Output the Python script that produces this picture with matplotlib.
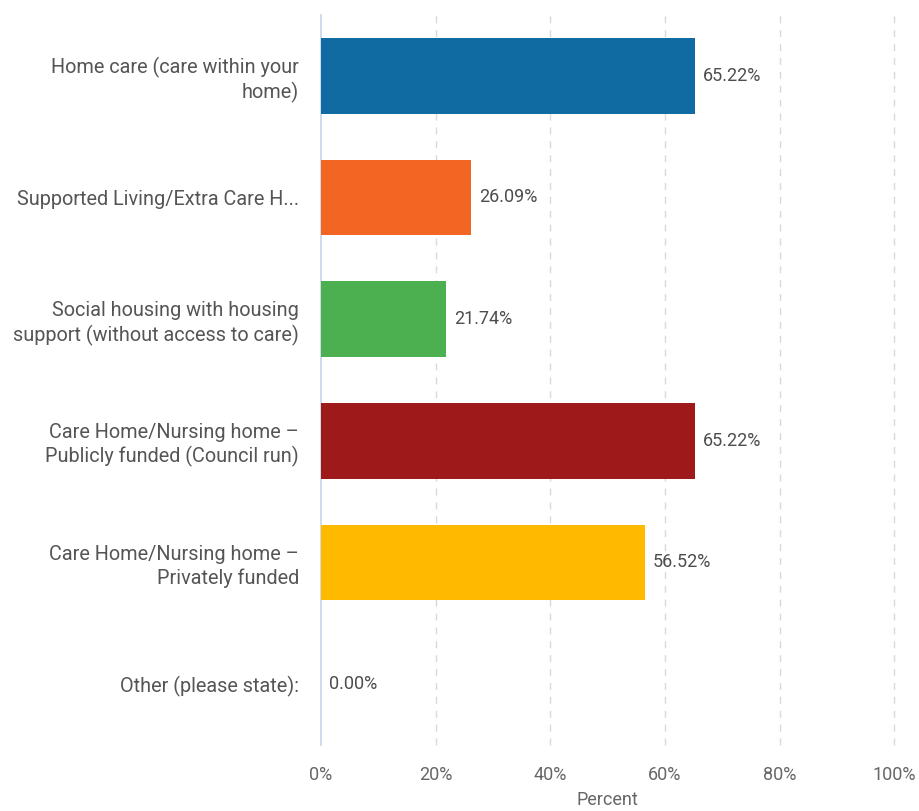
import matplotlib.pyplot as plt

plt.rcParams['font.family'] = ['Roboto', 'DejaVu Sans']

# Dados
categorias = [
    'Home care (care within your\nhome)',
    'Supported Living/Extra Care H...',
    'Social housing with housing\nsupport (without access to care)',
    'Care Home/Nursing home \u2013\nPublicly funded (Council run)',
    'Care Home/Nursing home \u2013\nPrivately funded',
    'Other (please state):',
]
valores = [65.22, 26.09, 21.74, 65.22, 56.52, 0.00]
cores = ['#106ba3', '#f26522', '#4caf50', '#9e1a1a', '#ffba00', '#cccccc']
ticks_x = [0, 20, 40, 60, 80, 100]

fig = plt.figure(figsize=(9.2, 8.11), dpi=100)
ax = fig.add_axes([0.349, 0.0814, 0.623, 0.9001])

pos = list(range(len(categorias)))
ax.barh(pos, valores, height=0.62, color=cores, zorder=3)

# Valores ao lado das barras
for p, v in zip(pos, valores):
    ax.text(v + 1.4, p, f'{v:.2f}%', va='center', ha='left',
            fontsize=13, color='#4d4d4d', zorder=4)

ax.set_ylim(len(categorias) - 0.5, -0.5)
ax.set_xlim(0, 100)
ax.set_yticks(pos)
ax.set_yticklabels(categorias, fontsize=14.3, color='#555555', linespacing=1.25)
ax.set_xticks(ticks_x)
ax.set_xticklabels([f'{t}%' for t in ticks_x], fontsize=13, color='#666666')
ax.tick_params(axis='both', length=0)
ax.tick_params(axis='y', pad=16)
ax.tick_params(axis='x', pad=15)

# Grade tracejada
for t in ticks_x[1:]:
    ax.axvline(t, color='#d9d9d9', linestyle=(0, (5, 5)), linewidth=1,
               zorder=1, clip_on=False)

for lado in ['top', 'right', 'bottom']:
    ax.spines[lado].set_visible(False)
ax.spines['left'].set_color('#c5d5ea')
ax.spines['left'].set_linewidth(1.2)

ax.set_xlabel('Percent', fontsize=13, color='#666666', labelpad=5)

plt.savefig('out.png', dpi=100)
